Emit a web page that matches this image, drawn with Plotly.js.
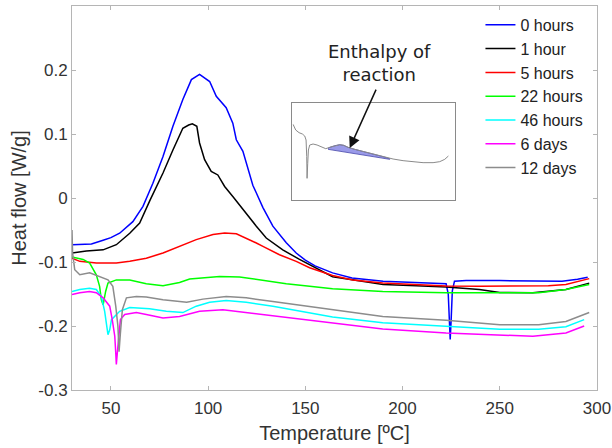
<!DOCTYPE html>
<html>
<head>
<meta charset="utf-8">
<script src="https://cdn.plot.ly/plotly-3.0.1.min.js"></script>
<style>html,body{margin:0;padding:0;background:#fff}#chart{width:612px;height:448px}</style>
</head>
<body>
<div id="chart"></div>
<script>
// Series: temperature (°C) and heat flow (W/g)
const names = ['0 hours','1 hour','5 hours','22 hours','46 hours','6 days','12 days'];
const colors = ['#0000ff','#000000','#ff0000','#00ff00','#00ffff','#ff00ff','#8c8c8c'];

const T0h = [30,35,40,46,50,54.5,58,61.3,66.5,71.6,76.8,81.9,87,91.4,95.6,100.8,104.2,109.3,112.7,114.5,117.9,123,128.2,133.3,140.2,145.3,150,155,164,174,190,207,222.4,223.5,224.0,224.5,225.0,225.6,226.7,232.7,250,270,282,290,295.2];
const H0h = [-0.073,-0.073,-0.072,-0.066,-0.062,-0.055,-0.046,-0.037,-0.013,0.023,0.065,0.112,0.154,0.185,0.193,0.182,0.159,0.141,0.117,0.091,0.073,0.02,-0.015,-0.044,-0.070,-0.086,-0.097,-0.106,-0.117,-0.125,-0.130,-0.132,-0.134,-0.15,-0.19,-0.221,-0.19,-0.145,-0.130,-0.129,-0.129,-0.129,-0.130,-0.127,-0.124];

const T1h = [30,37.4,46,52.8,59.7,64.8,70.2,76.8,81.9,87,90,91.9,94.2,95.6,98.2,101.6,105,108.5,112.7,117.9,124.8,129.9,138.4,147,152.2,164,175,190,207,222.4,239.5,250,267,284,296];
const H1h = [-0.086,-0.083,-0.081,-0.073,-0.055,-0.039,-0.003,0.039,0.075,0.109,0.114,0.116,0.112,0.086,0.060,0.0416,0.036,0.018,0.0025,-0.018,-0.044,-0.0625,-0.081,-0.096,-0.104,-0.123,-0.128,-0.135,-0.137,-0.139,-0.143,-0.1475,-0.148,-0.143,-0.133];

const T5h = [30,34,42.5,52.8,59.7,68.2,76.8,85.3,93.9,102.5,108.5,114.5,119.6,124.8,128.2,136.7,145.3,152.2,164,174.4,189.8,207,222.4,240,260,275,284,296];
const H5h = [-0.094,-0.099,-0.1016,-0.1016,-0.099,-0.094,-0.086,-0.0756,-0.065,-0.057,-0.0547,-0.056,-0.0625,-0.0703,-0.0756,-0.0886,-0.099,-0.109,-0.121,-0.128,-0.133,-0.1355,-0.1375,-0.138,-0.138,-0.137,-0.135,-0.126];

const T22h = [30,35.7,39.1,42.5,44.2,45.1,46,47.3,48.5,52.8,59.7,68.2,76.8,85.3,90.5,97.3,105.9,116.2,128.2,140.2,152.2,164,189.8,222.4,250,270,284,296];
const H22h = [-0.092,-0.096,-0.1016,-0.12,-0.138,-0.159,-0.167,-0.146,-0.133,-0.128,-0.128,-0.134,-0.137,-0.132,-0.1266,-0.125,-0.1225,-0.1234,-0.1287,-0.134,-0.138,-0.1417,-0.146,-0.148,-0.148,-0.148,-0.143,-0.135];

const T46h = [30,34,39,42.5,45.1,46.8,48.5,49.4,50.3,52,54.5,59.7,69.9,78.5,87,93.9,100.8,109.3,119.6,133.3,147,152.2,164,189.8,222.4,250,270,284,293.4];
const H46h = [-0.146,-0.143,-0.141,-0.143,-0.154,-0.177,-0.2135,-0.206,-0.19,-0.185,-0.177,-0.171,-0.173,-0.177,-0.179,-0.169,-0.163,-0.16,-0.163,-0.169,-0.177,-0.179,-0.186,-0.195,-0.2006,-0.205,-0.205,-0.201,-0.19];

const T6d = [30,34,39,42.5,46,49.4,50.7,52,52.5,52.8,53.6,54.9,57.1,63.1,68.2,76.8,85.3,95.6,107.6,119.6,133.3,147,152.2,164,189.8,222.4,250,267,284,293.4];
const H6d = [-0.151,-0.148,-0.146,-0.148,-0.156,-0.169,-0.19,-0.216,-0.242,-0.26,-0.232,-0.19,-0.182,-0.179,-0.182,-0.1875,-0.185,-0.177,-0.1745,-0.179,-0.184,-0.189,-0.191,-0.195,-0.2047,-0.211,-0.214,-0.216,-0.211,-0.2];

const T12d = [30,30.3,31.4,34,39.1,44.2,48.5,51,52.5,53.6,54.2,54.9,55.9,58,63.1,68.2,76.8,89,97.3,109.3,119.6,133.3,147,152.2,164,189.8,222.4,250,270,284,296];
const H12d = [-0.05,-0.086,-0.112,-0.12,-0.117,-0.1225,-0.128,-0.138,-0.169,-0.2,-0.24,-0.211,-0.1745,-0.156,-0.154,-0.1547,-0.159,-0.163,-0.158,-0.154,-0.156,-0.1616,-0.167,-0.169,-0.1745,-0.185,-0.191,-0.198,-0.198,-0.193,-0.179];

// Inset sketch (arbitrary inset units)
const insetX = [40,48,58,68,75,79,81,82,84,86,90,100,112,125,138,150,165,180,192,205,225,250,280,310,340,370,400,430,460,480,495,506];
const insetY = [283,300,308,312,318,330,380,445,400,360,345,342,345,350,356,352,347,344,346,352,358,364,372,380,387,392,396,398,398,395,388,378];
const shadeX = [145,150,165,180,192,205,225,250,280,310,330,330,145];
const shadeY = [355,352,347,344,346,352,358,364,372,380,386,388,358];

const xs = [T0h,T1h,T5h,T22h,T46h,T6d,T12d];
const ys = [H0h,H1h,H5h,H22h,H46h,H6d,H12d];

const traces = names.map((n,i)=>({
  x: xs[i], y: ys[i], name: n, type:'scatter', mode:'lines',
  line:{color:colors[i], width:1.5}
}));

traces.push({x:shadeX, y:shadeY, xaxis:'x2', yaxis:'y2', type:'scatter', mode:'lines',
  fill:'toself', fillcolor:'rgba(120,120,225,0.75)', line:{color:'rgba(70,70,170,0.8)', width:1}, showlegend:false, hoverinfo:'skip'});
traces.push({x:insetX, y:insetY, xaxis:'x2', yaxis:'y2', type:'scatter', mode:'lines',
  line:{color:'#8a8a8a', width:1}, showlegend:false, hoverinfo:'skip'});

const FONT = 'Liberation Sans, Arial, sans-serif';
const axisCommon = {
  showline:true, mirror:'ticks', linecolor:'#b5b5b5', linewidth:1,
  ticks:'inside', ticklen:4, tickcolor:'#b5b5b5', showgrid:false, zeroline:false,
  tickfont:{family:FONT, size:17, color:'#333333'}
};

const layout = {
  width:612, height:448,
  margin:{l:72, r:15, t:6, b:58},
  paper_bgcolor:'#ffffff', plot_bgcolor:'#ffffff',
  font:{family:FONT, color:'#333333'},
  xaxis:Object.assign({}, axisCommon, {
    range:[30,300], tickvals:[50,100,150,200,250,300], ticklabelstandoff:3,
    title:{text:'Temperature [ºC]', font:{size:20, color:'#333333'}, standoff:8}
  }),
  yaxis:Object.assign({}, axisCommon, {
    range:[-0.3,0.3], tickvals:[-0.3,-0.2,-0.1,0,0.1,0.2],
    ticktext:['-0.3','-0.2','-0.1','0','0.1','0.2'],
    title:{text:'Heat flow [W/g]', font:{size:20, color:'#333333'}, standoff:6}
  }),
  xaxis2:{domain:[0.4198,0.7303], anchor:'y2', range:[38,527], showline:true, mirror:true,
    linecolor:'#8a8a8a', linewidth:1, showticklabels:false, ticks:'', showgrid:false, zeroline:false},
  yaxis2:{domain:[0.4948,0.7482], anchor:'x2', range:[510,218], showline:true, mirror:true,
    linecolor:'#8a8a8a', linewidth:1, showticklabels:false, ticks:'', showgrid:false, zeroline:false},
  showlegend:true,
  legend:{x:0.778, y:0.995, xanchor:'left', yanchor:'top', bgcolor:'rgba(0,0,0,0)',
    font:{family:FONT, size:16, color:'#222222'}, itemwidth:30},
  annotations:[
    {xref:'paper', yref:'paper', x:0.585, y:0.913, text:'Enthalpy of<br>reaction', showarrow:false,
     font:{family:'DejaVu Sans, Verdana, sans-serif', size:18, color:'#222222'}, align:'center'},
    {xref:'paper', yref:'paper', x:0.529, y:0.630, text:'', showarrow:true,
     ax:27, ay:-60, arrowhead:2, arrowsize:1.5, arrowwidth:1.5, arrowcolor:'#111111'}
  ]
};

Plotly.newPlot('chart', traces, layout, {displayModeBar:false, staticPlot:true});
</script>
</body>
</html>
